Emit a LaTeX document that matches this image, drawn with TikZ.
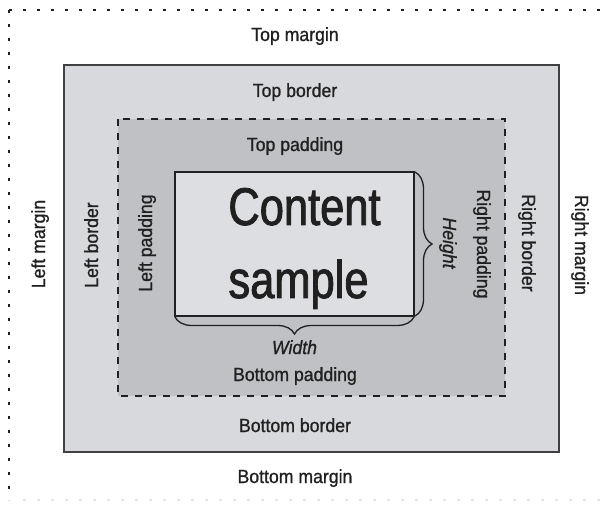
\documentclass[tikz,border=0pt]{standalone}
\usepackage{fontspec}
\setmainfont[FakeStretch=0.93, FakeBold=0.9]{Liberation Sans}
\newfontfamily\bigfont[FakeStretch=0.82, FakeBold=1.6]{Liberation Sans}
\usetikzlibrary{decorations.pathreplacing}

\definecolor{borderfill}{RGB}{216,217,220}
\definecolor{padfill}{RGB}{192,193,196}
\definecolor{contentfill}{RGB}{221,222,225}
\definecolor{ink}{RGB}{32,32,32}

\tikzset{
  lbl/.style={font=\fontsize{19}{22}\selectfont, text=ink, inner sep=0pt, anchor=base},
  uplbl/.style={lbl, rotate=90},
  downlbl/.style={lbl, rotate=-90},
  marginline/.style={line width=2.6pt, dash pattern=on 2.6pt off 11.4pt, draw=ink},
  borderbox/.style={fill=borderfill, draw=black!75, line width=2pt},
  paddingbox/.style={fill=padfill, draw=ink, line width=1.5pt, dash pattern=on 7pt off 7pt},
  contentbox/.style={fill=contentfill, draw=ink, line width=1.3pt, inner sep=0pt, outer sep=0pt,
    minimum width=239pt, minimum height=144pt},
  sizebrace/.style={decorate, decoration={brace, amplitude=17pt, raise=1pt}, draw=ink, line width=1.3pt},
}

\begin{document}
\begin{tikzpicture}[x=1pt, y=-1pt]
\useasboundingbox (0,0) rectangle (608,505);
% margin edges
\draw[marginline] (9,10) -- (608,10);
\draw[marginline] (9,10) -- (9,500);
\draw[marginline, draw=black!10] (23,500) -- (608,500);
% border and padding
\draw[borderbox] (64,65) rectangle (559,452);
\draw[paddingbox] (118,119) rectangle (505,396);
\node[contentbox] (content) at (294.5,244) {};
\node[lbl, font=\bigfont\fontsize{53}{60}\selectfont] (contentword) at (304.5,225) {Content};
\node[lbl, font=\bigfont\fontsize{53}{60}\selectfont] (sampleword) at (298.5,298) {sample};
% sizes
\draw[sizebrace] (content.north east) -- (content.south east);
\draw[sizebrace] (content.south east) -- (content.south west);
\node[downlbl, font=\itshape\fontsize{19}{22}\selectfont] (height) at (443,243) {Height};
\node[lbl, font=\itshape\fontsize{19}{22}\selectfont] (width) at (294.5,354) {Width};
% labels
\node[lbl] (topmargin) at (295,41) {Top margin};
\node[lbl] (topborder) at (295,97) {Top border};
\node[lbl] (toppadding) at (295,151) {Top padding};
\node[lbl] (bottompadding) at (295,381) {Bottom padding};
\node[lbl] (bottomborder) at (295,432) {Bottom border};
\node[lbl] (bottommargin) at (295,483) {Bottom margin};
\node[uplbl] (leftmargin) at (45,244) {Left margin};
\node[uplbl] (leftborder) at (98,245) {Left border};
\node[uplbl] (leftpadding) at (152,243) {Left padding};
\node[downlbl] (rightpadding) at (477,244) {Right padding};
\node[downlbl] (rightborder) at (522,243) {Right border};
\node[downlbl] (rightmargin) at (575,245) {Right margin};
\end{tikzpicture}
\end{document}
